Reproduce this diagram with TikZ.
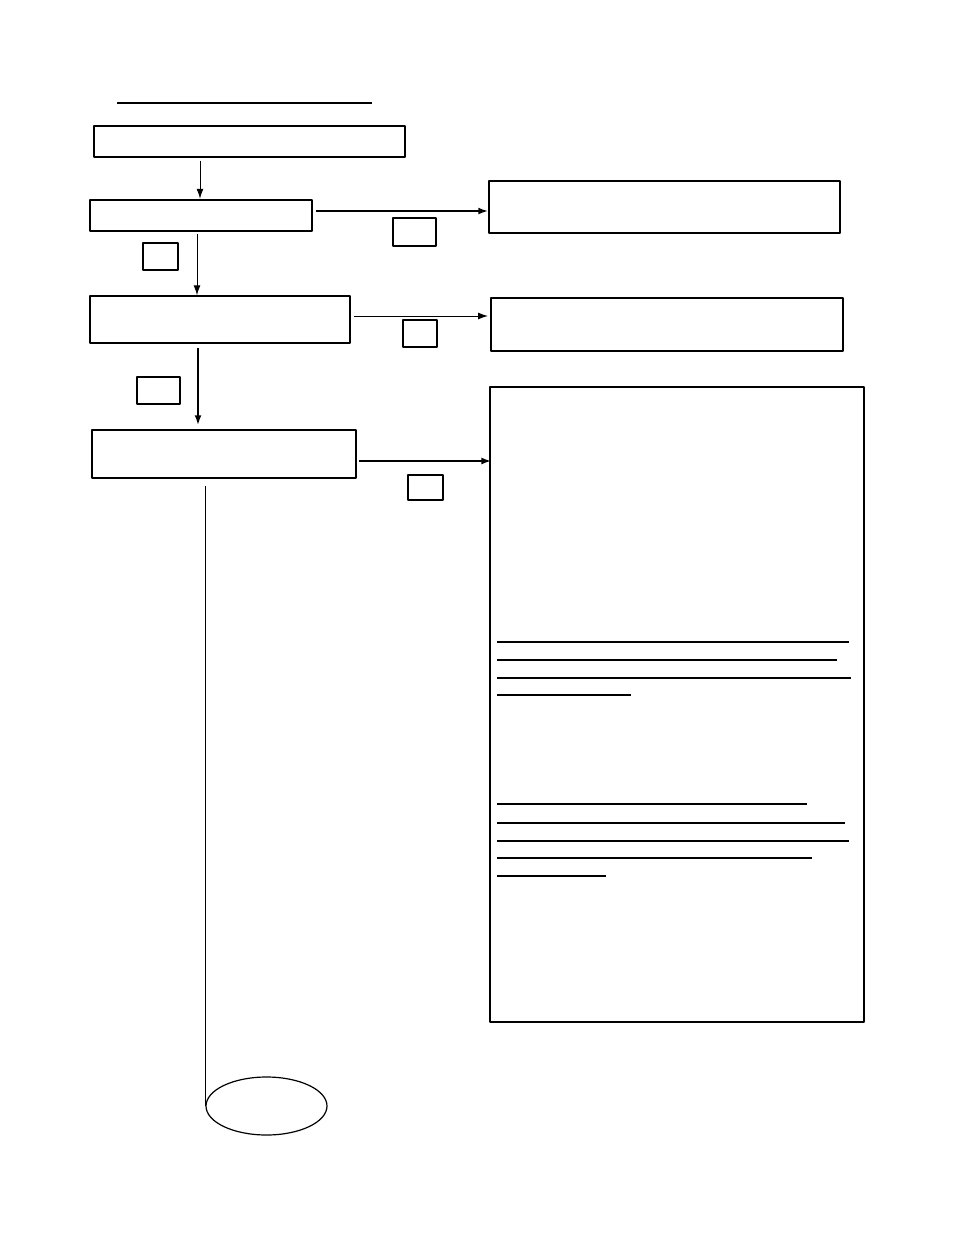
\documentclass[tikz,border=0pt]{standalone}
\usetikzlibrary{positioning,shapes.geometric,arrows.meta}
\begin{document}
\begin{tikzpicture}[x=1pt,y=-1pt,line join=round,>={Latex[length=10pt,width=7pt]}]
                \tikzset{
                  box/.style={draw,inner sep=0pt,line width=1.5pt},
                  tag/.style={draw,inner sep=0pt,line width=1.3pt,minimum width=35pt,minimum height=27pt},
                  uline/.style={line width=2pt}
                }
                \useasboundingbox (0,0) rectangle (954,1235);
                \draw[uline] (117,103) -- (372,103);
                % left column
                \node[box,line width=1.3pt,minimum width=311pt,minimum height=31pt] (start) at (249.5,141.5) {};
                \node[box,line width=2.5pt,minimum width=222pt,minimum height=31pt] (checkA) at (201,215.5) {};
                \node[box,minimum width=260pt,minimum height=47pt] (checkB) at (220,319.5) {};
                \node[box,minimum width=264pt,minimum height=48pt] (checkC) at (224,454) {};
                \node[draw,ellipse,line width=1.2pt,minimum width=121pt,minimum height=58pt] (finish) at (266.5,1106) {};
                % right column
                \node[box,minimum width=351pt,minimum height=52pt] (actA) at (664.5,207) {};
                \node[box,line width=2pt,minimum width=352pt,minimum height=53pt] (actB) at (667,324.5) {};
                \node[box,line width=1.2pt,minimum width=374pt,minimum height=635pt] (actC) at (677,704.5) {};
                % answer tags
                \node[tag,minimum width=43pt,minimum height=28pt] (tagA) at (414.5,232) {};
                \node[tag] (tagAdown) at (160.5,256.5) {};
                \node[tag,minimum width=34pt] (tagB) at (420,333.5) {};
                \node[tag,minimum width=43pt] (tagBdown) at (158.5,390.5) {};
                \node[tag,minimum height=25pt] (tagC) at (425.5,487.5) {};
                % connectors
                \draw[->,line width=1pt,shorten <=3pt] (200,0 |- start.south) -- (200,0 |- checkA.north);
                \draw[->,line width=2pt,shorten <=3pt] (checkA.east |- 0,211) -- (actA.west |- 0,211);
                \draw[->,line width=1pt,shorten <=2pt] (197,0 |- checkA.south) -- (197,0 |- checkB.north);
                \draw[->,line width=1pt,shorten <=3pt,shorten >=2pt] (checkB.east |- 0,316) -- (actB.west |- 0,316);
                \draw[->,line width=2.5pt,shorten <=4pt,shorten >=4pt] (198,0 |- checkB.south) -- (198,0 |- checkC.north);
                \draw[->,line width=2pt,shorten <=2pt,shorten >=-2pt] (checkC.east |- 0,461) -- (actC.west |- 0,461);
                \draw[line width=1pt,shorten <=7pt] (finish.west |- checkC.south) -- (finish.west);
                % underlines in the last box
                \foreach \y/\xe/\w in {642/849/2.5,660/837/2.5,678/851/2.5,695/631/1.5,
                                       804/807/2.5,823/845/2.5,841/849/2.5,858/812/1.5,876/606/2}
                  \draw[line width=\w pt] (497,\y) -- (\xe,\y);
\end{tikzpicture}
\end{document}
